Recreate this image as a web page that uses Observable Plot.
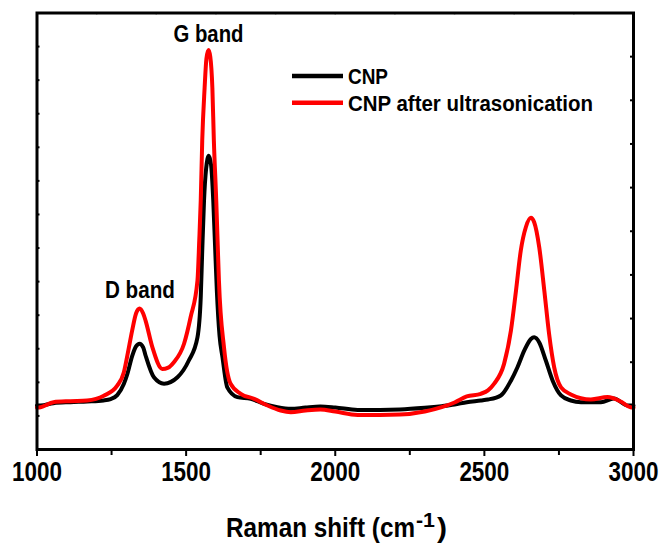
<!DOCTYPE html>
<html>
<head>
<meta charset="utf-8">
<script src="https://cdn.jsdelivr.net/npm/d3@7"></script>
<script src="https://cdn.jsdelivr.net/npm/@observablehq/plot@0.6"></script>
<style>
  html, body { margin: 0; padding: 0; background: #fff; }
  #chart { position: relative; width: 659px; height: 543px; }
</style>
</head>
<body>
<div id="chart"></div>
<script>
// ---- Data (Raman shift in cm-1, intensity in arbitrary units) ----
const cnpShift = [1000,1012,1055,1112,1168,1223,1247,1269,1291,1303,1319,1332,1344,1356,1364,1392,1426,1471,1509,1538,1549,1554,1560,1567,1576,1584,1591,1597,1603,1612,1622,1638,1672,1717,1761,1806,1851,1900,1950,2000,2075,2150,2217,2300,2357,2400,2441,2488,2512,2555,2589,2611,2634,2656,2667,2684,2706,2729,2757,2790,2824,2891,2934,2981,3000];
const cnpIntensity = [1.31,1.31,1.38,1.41,1.43,1.46,1.50,1.62,1.95,2.25,2.78,3.07,3.15,3.04,2.80,2.15,1.96,2.15,2.65,3.34,4.53,5.92,7.41,8.36,8.75,8.45,7.41,6.07,4.73,3.39,2.74,1.85,1.56,1.51,1.36,1.26,1.21,1.25,1.28,1.25,1.18,1.18,1.19,1.24,1.29,1.34,1.41,1.46,1.49,1.61,2.05,2.45,2.95,3.29,3.34,3.19,2.65,2.05,1.61,1.46,1.41,1.41,1.52,1.31,1.31];

const usShift = [1000,1012,1055,1112,1168,1224,1269,1291,1303,1319,1332,1344,1356,1364,1387,1420,1440,1459,1493,1515,1538,1544,1549,1554,1562,1568,1575,1581,1588,1593,1601,1606,1610,1627,1649,1683,1728,1773,1817,1851,1900,1950,2000,2075,2150,2217,2300,2357,2400,2441,2488,2512,2533,2566,2589,2606,2622,2639,2656,2667,2684,2701,2717,2734,2757,2790,2857,2913,2957,2990,3000];
const usIntensity = [1.25,1.26,1.41,1.44,1.46,1.60,1.90,2.29,2.80,3.54,4.05,4.20,4.05,3.84,3.04,2.40,2.44,2.60,3.15,3.94,5.03,6.22,7.41,9.20,10.77,11.64,11.90,11.70,10.77,9.20,7.41,6.07,5.03,3.04,1.96,1.66,1.51,1.31,1.16,1.11,1.16,1.19,1.13,1.03,1.03,1.04,1.13,1.26,1.40,1.58,1.66,1.76,1.96,2.55,3.54,4.73,5.92,6.62,6.90,6.77,6.02,4.73,3.44,2.45,1.85,1.64,1.49,1.56,1.43,1.26,1.25];

const seriesNames = ["CNP", "CNP after ultrasonication"];
const seriesColors = ["#000000", "#ff0000"];

const xMajorTicks = [1000, 1500, 2000, 2500, 3000];
const xMinorTicks = [1250, 1750, 2250, 2750];
const xTopTicks = [1200, 1400, 1600, 1800, 2000, 2200, 2400, 2600, 2800];
const yLeftTicks = [1,2,3,4,5,6,7,8,9,10,11,12];
const yRightTicks = [1.3,2.6,3.9,5.2,6.5,7.8,9.1,10.4,11.7];

const annotations = [
  {label: "G band", x: 1575, y: 12.35},
  {label: "D band", x: 1345, y: 4.72}
];

// ---- Build tables ----
const cnp = cnpShift.map((x, i) => ({x, y: cnpIntensity[i], s: seriesNames[0]}));
const us = usShift.map((x, i) => ({x, y: usIntensity[i], s: seriesNames[1]}));

const W = 659, H = 543;
const mL = 36.5, mR = 26, mT = 12.5, mB = 94;
const plotW = W - mL - mR, plotH = H - mT - mB;
const FONT = "'Liberation Sans', Arial, sans-serif";

const chart = Plot.plot({
  width: W,
  height: H,
  marginLeft: mL,
  marginRight: mR,
  marginTop: mT,
  marginBottom: mB,
  style: {fontFamily: FONT, background: "#fff", color: "#000"},
  x: {domain: [1000, 3000]},
  y: {domain: [0, 13]},
  marks: [
    Plot.tickY(yLeftTicks, {y: d => d, stroke: "#000", strokeWidth: 2, insetRight: plotW - 3}),
    Plot.tickY(yRightTicks, {y: d => d, stroke: "#000", strokeWidth: 2, insetLeft: plotW - 3}),
    Plot.tickX(xTopTicks, {x: d => d, stroke: "#000", strokeWidth: 1.5, strokeOpacity: 0.45, insetBottom: plotH - 2}),
    Plot.line(cnp, {x: "x", y: "y", stroke: seriesColors[0], strokeWidth: 4, curve: "monotone-x"}),
    Plot.line(us, {x: "x", y: "y", stroke: seriesColors[1], strokeWidth: 4, curve: "monotone-x"}),
    Plot.frame({stroke: "#000", strokeWidth: 3}),
    Plot.axisX(xMinorTicks, {anchor: "bottom", tickSize: 6, strokeWidth: 2, tickFormat: () => "", label: null}),
    Plot.axisX(xMajorTicks, {anchor: "bottom", tickSize: 7, tickPadding: 5, strokeWidth: 2,
      tickFormat: d => String(d), fontSize: 28, fontWeight: "bold", fontFamily: FONT, label: null,
      ariaLabel: "x-major"}),
    Plot.axisY([], {label: null}),
    Plot.text(annotations, {x: "x", y: "y", text: "label", fontSize: 23, fontWeight: "bold",
      fontFamily: FONT, fill: "#000", textAnchor: "middle", ariaLabel: "band-labels"})
  ]
});

document.getElementById("chart").appendChild(chart);

const svg = d3.select(chart);
function squeeze(sel, w) {
  sel.attr("textLength", w).attr("lengthAdjust", "spacingAndGlyphs");
}
// condensed look of the original (Arial Narrow style)
svg.selectAll("text").filter(function () { return /^\d{4}$/.test(this.textContent); })
  .each(function () { squeeze(d3.select(this), 50); });
svg.selectAll("text").filter(function () { return /band$/.test(this.textContent); })
  .each(function () { squeeze(d3.select(this), 70); });

// ---- Axis title with superscript ----
const title = svg.append("text")
  .attr("x", 226).attr("y", 537)
  .attr("text-anchor", "start")
  .attr("font-family", FONT)
  .attr("font-weight", "bold")
  .attr("font-size", 28)
  .attr("fill", "#000");
title.append("tspan").text("Raman shift (cm").call(squeeze, 189);
title.append("tspan").attr("dx", 1).attr("dy", -10).attr("font-size", 21).text("-1").call(squeeze, 19);
title.append("tspan").attr("dx", 2).attr("dy", 10).text(")").call(squeeze, 10);

// ---- Legend ----
const legend = svg.append("g").attr("font-family", FONT).attr("font-weight", "bold")
  .attr("font-size", 22).attr("text-anchor", "start");
const legendWidths = [40, 245];
seriesNames.forEach((name, i) => {
  const cy = 76 + i * 26.7;
  legend.append("line").attr("x1", 292).attr("x2", 343).attr("y1", cy).attr("y2", cy)
    .attr("stroke", seriesColors[i]).attr("stroke-width", 4.5);
  legend.append("text").attr("x", 348).attr("y", cy).attr("dy", "0.36em").attr("fill", "#000")
    .attr("text-anchor", "start").text(name).call(squeeze, legendWidths[i]);
});
</script>
</body>
</html>
